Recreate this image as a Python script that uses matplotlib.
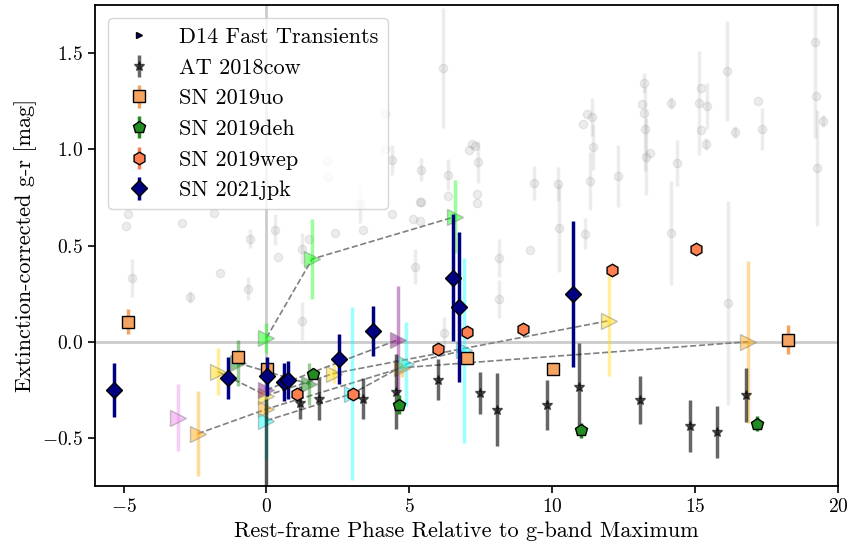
import matplotlib
matplotlib.use("Agg")
import matplotlib.pyplot as plt
from matplotlib.lines import Line2D

plt.rcParams['font.family'] = 'serif'
plt.rcParams['font.serif'] = ['cmr10', 'DejaVu Serif']
plt.rcParams['mathtext.fontset'] = 'cm'
plt.rcParams['axes.formatter.use_mathtext'] = True
plt.rcParams['axes.unicode_minus'] = True

# background comparison sample (grey cloud)
bg_phase = [-4.83, -4.93, -2.94, -1.82, -0.59, 0.31, 0.42, -4.72, -1.64, -0.66,
            -2.66, 1.26, 2.41, 1.26, 1.50, 6.19, 4.16, 4.16, 4.41, 5.42,
            6.36, 6.36, 5.42, 7.20, 7.31, 7.10, 7.41, 7.38, 7.38, 4.41,
            5.14, 9.37, 10.21, 11.33, 12.31, 11.22, 11.08, 11.40, 11.43, 13.22,
            13.15, 13.22, 13.25, 13.29, 13.43, 14.16, 15.14, 15.21, 15.42, 15.21,
            15.38, 16.12, 16.40, 17.20, 17.34, 14.37, 19.20, 19.23, 19.48, 19.27,
            3.39, 3.29, 5.38, 5.38, 8.15, 8.15, 9.23, 10.24, 11.15, 6.22,
            5.21, 14.16, 16.15, 2.13, 2.17]
bg_gr = [0.665, 0.603, 0.618, 0.670, 0.535, 0.582, 0.442, 0.332, 0.358, 0.275,
         0.234, 0.483, 0.566, 0.109, 0.535, 1.423, 1.184, 1.003, 0.945, 0.894,
         0.868, 0.758, 0.727, 1.029, 1.018, 0.997, 0.935, 0.769, 0.722, 0.665,
         0.639, 0.826, 0.821, 0.836, 0.862, 1.184, 1.132, 1.169, 1.013, 1.345,
         1.236, 1.190, 1.106, 0.961, 0.982, 1.242, 1.242, 1.319, 1.226, 1.101,
         1.029, 1.408, 1.091, 1.252, 1.106, 0.930, 1.558, 1.278, 1.148, 0.904,
         0.582, 0.717, 0.727, 0.629, 0.436, 0.223, 0.478, 0.592, 0.561, 0.047,
         0.390, 0.566, 0.203, 0.940, 0.857]
bg_err = [0.0, 0.0, 0.0, 0.0, 0.05, 0.08, 0.0, 0.10, 0.0, 0.06,
          0.03, 0.08, 0.0, 0.10, 0.0, 0.31, 0.0, 0.0, 0.08, 0.06,
          0.08, 0.0, 0.0, 0.0, 0.0, 0.0, 0.11, 0.0, 0.0, 0.0,
          0.0, 0.09, 0.09, 0.15, 0.16, 0.0, 0.0, 0.10, 0.12, 0.05,
          0.0, 0.0, 0.22, 0.20, 0.0, 0.03, 0.27, 0.0, 0.12, 0.0,
          0.03, 0.26, 0.03, 0.0, 0.11, 0.12, 0.50, 0.0, 0.03, 0.30,
          0.0, 0.10, 0.0, 0.0, 0.10, 0.10, 0.0, 0.23, 0.08, 0.08,
          0.09, 0.27, 0.53, 0.0, 0.0]

# D14 fast transients (one list per object)
d14_phase = [[0.0, 1.6, 6.6],
             [-1.7, 0.0, 2.35, 12.0],
             [-2.4, 0.0, 4.75, 16.85],
             [0.0, 3.0, 4.9, 6.9],
             [0.0, 4.6],
             [-1.0, 1.5],
             [-3.1]]
d14_gr = [[0.02, 0.43, 0.65],
          [-0.155, -0.28, -0.165, 0.11],
          [-0.478, -0.35, -0.135, 0.0],
          [-0.41, -0.27, -0.115, -0.045],
          [-0.25, 0.01],
          [-0.11, -0.22],
          [-0.395]]
d14_err = [[0.08, 0.21, 0.19],
           [0.12, 0.05, 0.05, 0.29],
           [0.22, 0.05, 0.05, 0.42],
           [0.2, 0.45, 0.22, 0.48],
           [0.05, 0.28],
           [0.12, 0.11],
           [0.175]]
d14_colors = ['lime', 'gold', 'orange', 'cyan', 'purple', 'green', 'violet']

# AT 2018cow
cow_phase = [0.0, 1.19, 1.85, 3.39, 4.55, 6.01, 7.48, 8.08, 9.83, 10.93, 13.08, 14.83, 15.77, 16.78]
cow_gr = [-0.85, -0.317, -0.296, -0.296, -0.26, -0.197, -0.265, -0.353, -0.327, -0.234, -0.301, -0.436, -0.468, -0.275]
cow_err = [0.55, 0.085, 0.11, 0.107, 0.195, 0.106, 0.11, 0.19, 0.13, 0.23, 0.125, 0.135, 0.135, 0.14]

# SN 2019uo
uo_phase = [-4.83, -0.98, 0.03, 7.03, 10.03, 18.25]
uo_gr = [0.104, -0.078, -0.14, -0.083, -0.14, 0.01]
uo_err = [0.065, 0.03, 0.03, 0.03, 0.02, 0.075]

# SN 2019deh
deh_phase = [1.64, 4.65, 11.01, 17.17]
deh_gr = [-0.166, -0.327, -0.46, -0.426]
deh_err = [0.03, 0.05, 0.04, 0.04]

# SN 2019wep
wep_phase = [1.08, 3.04, 6.01, 7.03, 8.99, 12.10, 15.03]
wep_gr = [-0.27, -0.27, -0.036, 0.052, 0.068, 0.374, 0.483]
wep_err = [0.03, 0.02, 0.01, 0.01, 0.01, 0.03, 0.01]

# SN 2021jpk
jpk_phase = [-5.35, -1.36, 0.03, 0.6, 0.77, 2.55, 3.74, 6.54, 6.75, 10.73]
jpk_gr = [-0.25, -0.19, -0.18, -0.21, -0.2, -0.088, 0.057, 0.333, 0.182, 0.249]
jpk_err = [0.14, 0.11, 0.1, 0.1, 0.1, 0.13, 0.13, 0.33, 0.39, 0.38]

fig = plt.figure(figsize=(8.51, 5.54), dpi=100)
ax = fig.add_axes([0.1116, 0.1227, 0.873, 0.868])

ax.axhline(0, color='gray', alpha=0.4, lw=2, zorder=0)
ax.axvline(0, color='gray', alpha=0.4, lw=2, zorder=0)

ax.errorbar(bg_phase, bg_gr, yerr=bg_err, fmt='o', color='gray', alpha=0.15,
            ms=6, elinewidth=2.5, capsize=0, zorder=1)

for ph, gr, err, c in zip(d14_phase, d14_gr, d14_err, d14_colors):
    ax.plot(ph, gr, '--', color='gray', lw=1.2, zorder=2)
    ax.errorbar(ph, gr, yerr=err, fmt='none', ecolor=c, alpha=0.4, elinewidth=2.5, zorder=2)
    ax.plot(ph, gr, '>', ls='none', color=c, mec='gray', ms=11, alpha=0.45, zorder=3)

ax.errorbar(cow_phase, cow_gr, yerr=cow_err, fmt='*', color='k', alpha=0.6,
            ms=7, elinewidth=2.5, capsize=0, zorder=4, label='AT 2018cow')
ax.errorbar(uo_phase, uo_gr, yerr=uo_err, fmt='s', mfc='sandybrown', mec='k',
            ecolor='sandybrown', ms=9, elinewidth=2.5, capsize=0, zorder=5, label='SN 2019uo')
ax.errorbar(deh_phase, deh_gr, yerr=deh_err, fmt='p', mfc='forestgreen', mec='k',
            ecolor='forestgreen', ms=9, elinewidth=2.5, capsize=0, zorder=5, label='SN 2019deh')
ax.errorbar(wep_phase, wep_gr, yerr=wep_err, fmt='h', mfc='coral', mec='k',
            ecolor='coral', ms=9, elinewidth=2.5, capsize=0, zorder=5, label='SN 2019wep')
ax.errorbar(jpk_phase, jpk_gr, yerr=jpk_err, fmt='D', mfc='navy', mec='k',
            ecolor='navy', ms=8, elinewidth=2.5, capsize=0, zorder=6, label='SN 2021jpk')

ax.set_xlim(-6, 20)
ax.set_ylim(-0.75, 1.75)
ax.set_xticks([-5, 0, 5, 10, 15, 20])
ax.set_yticks([-0.5, 0.0, 0.5, 1.0, 1.5])
ax.tick_params(labelsize=14, width=1.2, length=5)
for s in ax.spines.values():
    s.set_linewidth(1.3)
ax.set_xlabel('Rest-frame Phase Relative to g-band Maximum', fontsize=16)
ax.set_ylabel('Extinction-corrected g-r [mag]', fontsize=16)

d14_handle = Line2D([], [], marker='>', ls='none', mfc='navy', mec='k', ms=5)
handles, labels = ax.get_legend_handles_labels()
ax.legend([d14_handle] + handles, ['D14 Fast Transients'] + labels,
          loc='upper left', fontsize=16, framealpha=0.8, borderaxespad=0.6,
          labelspacing=0.5)

fig.savefig('out.png', dpi=100)
